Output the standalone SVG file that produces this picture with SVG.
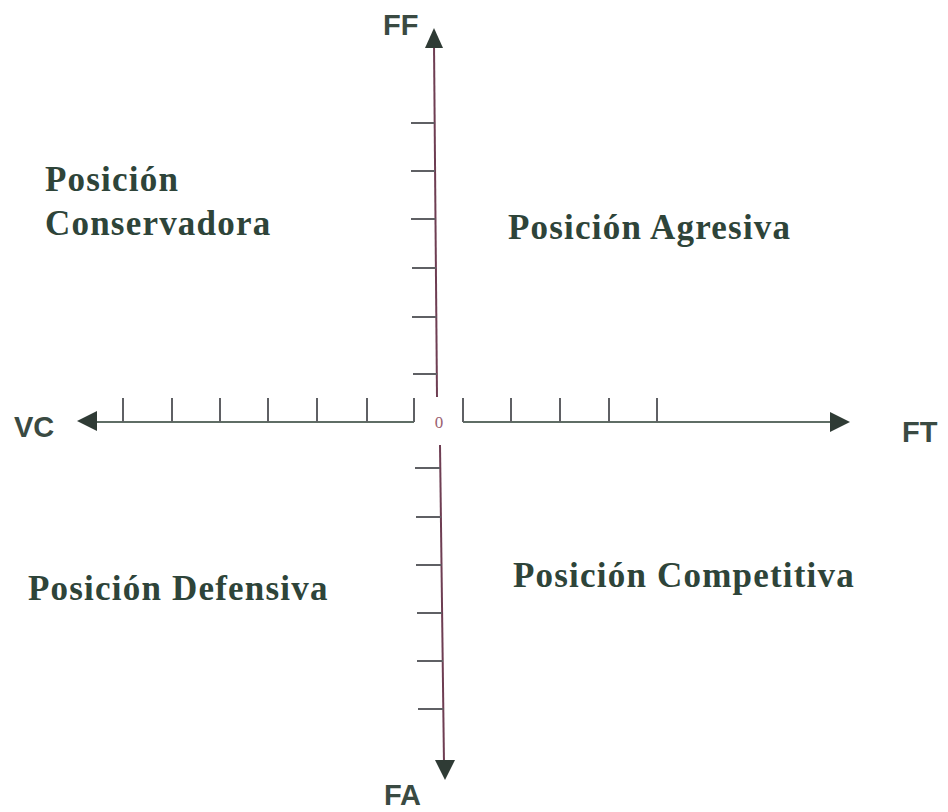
<svg xmlns="http://www.w3.org/2000/svg" width="948" height="812" viewBox="0 0 948 812">
<style>
.vax{stroke:#6e3d52;stroke-width:2;fill:none}
.hax{stroke:#5f6d65;stroke-width:2;fill:none}
.tick{stroke:#5f6064;stroke-width:2;fill:none}
.head{fill:#2f3b35}
.pos{font-family:"Liberation Serif","Times New Roman",serif;font-weight:bold;font-size:35px;letter-spacing:1.2px;fill:#2e4439}
.axl{font-family:"Liberation Sans",Arial,sans-serif;font-weight:bold;font-size:29px;fill:#3a4a42}
.zero{font-family:"Liberation Serif",serif;font-size:17px;fill:#9a6070}
</style>
<rect width="948" height="812" fill="#ffffff"/>
<g id="connectors">
  <!-- upper vertical axis -->
  <line class="vax" x1="434" y1="44" x2="437" y2="397"/>
  <polygon class="head" points="434,28 443,48 425,48"/>
  <g class="tick">
    <line x1="411" y1="123" x2="434.5" y2="123"/>
    <line x1="411" y1="171" x2="435" y2="171"/>
    <line x1="411" y1="219" x2="435.5" y2="219"/>
    <line x1="412" y1="268" x2="436" y2="268"/>
    <line x1="412" y1="317" x2="436.5" y2="317"/>
    <line x1="413" y1="374" x2="437" y2="374"/>
  </g>
  <!-- lower vertical axis -->
  <line class="vax" x1="440" y1="445" x2="444" y2="764"/>
  <polygon class="head" points="435,760 455,760 445,780"/>
  <g class="tick">
    <line x1="415" y1="468" x2="440" y2="468"/>
    <line x1="416" y1="517" x2="441" y2="517"/>
    <line x1="416" y1="565" x2="441.5" y2="565"/>
    <line x1="417" y1="613" x2="442" y2="613"/>
    <line x1="417" y1="661" x2="443" y2="661"/>
    <line x1="418" y1="709" x2="443.5" y2="709"/>
  </g>
  <!-- left horizontal axis -->
  <line class="hax" x1="92" y1="422" x2="414" y2="422"/>
  <polygon class="head" points="77,421 97,411 97,431"/>
  <g class="tick">
    <line x1="123" y1="398" x2="123" y2="422"/>
    <line x1="172" y1="398" x2="172" y2="422"/>
    <line x1="220" y1="398" x2="220" y2="422"/>
    <line x1="268" y1="398" x2="268" y2="422"/>
    <line x1="317" y1="398" x2="317" y2="422"/>
    <line x1="367" y1="398" x2="367" y2="422"/>
    <line x1="414" y1="398" x2="414" y2="422"/>
  </g>
  <!-- right horizontal axis -->
  <line class="hax" x1="463" y1="422" x2="834" y2="422"/>
  <polygon class="head" points="850,422 830,412 830,432"/>
  <g class="tick">
    <line x1="463" y1="398" x2="463" y2="422"/>
    <line x1="511" y1="398" x2="511" y2="422"/>
    <line x1="560" y1="398" x2="560" y2="422"/>
    <line x1="609" y1="398" x2="609" y2="422"/>
    <line x1="657" y1="398" x2="657" y2="422"/>
  </g>
</g>
<g id="axis-labels">
  <text class="axl" x="383" y="35">FF</text>
  <text class="axl" x="14" y="437">VC</text>
  <text class="axl" x="902" y="442">FT</text>
  <text class="axl" x="384" y="805">FA</text>
  <text class="zero" x="439" y="428" text-anchor="middle">0</text>
</g>
<g id="conservadora">
  <text class="pos" x="45" y="191">Posición</text>
  <text class="pos" x="45" y="235">Conservadora</text>
</g>
<g id="agresiva">
  <text class="pos" x="508" y="239">Posición Agresiva</text>
</g>
<g id="defensiva">
  <text class="pos" x="28" y="600">Posición Defensiva</text>
</g>
<g id="competitiva">
  <text class="pos" x="513" y="587">Posición Competitiva</text>
</g>
</svg>
